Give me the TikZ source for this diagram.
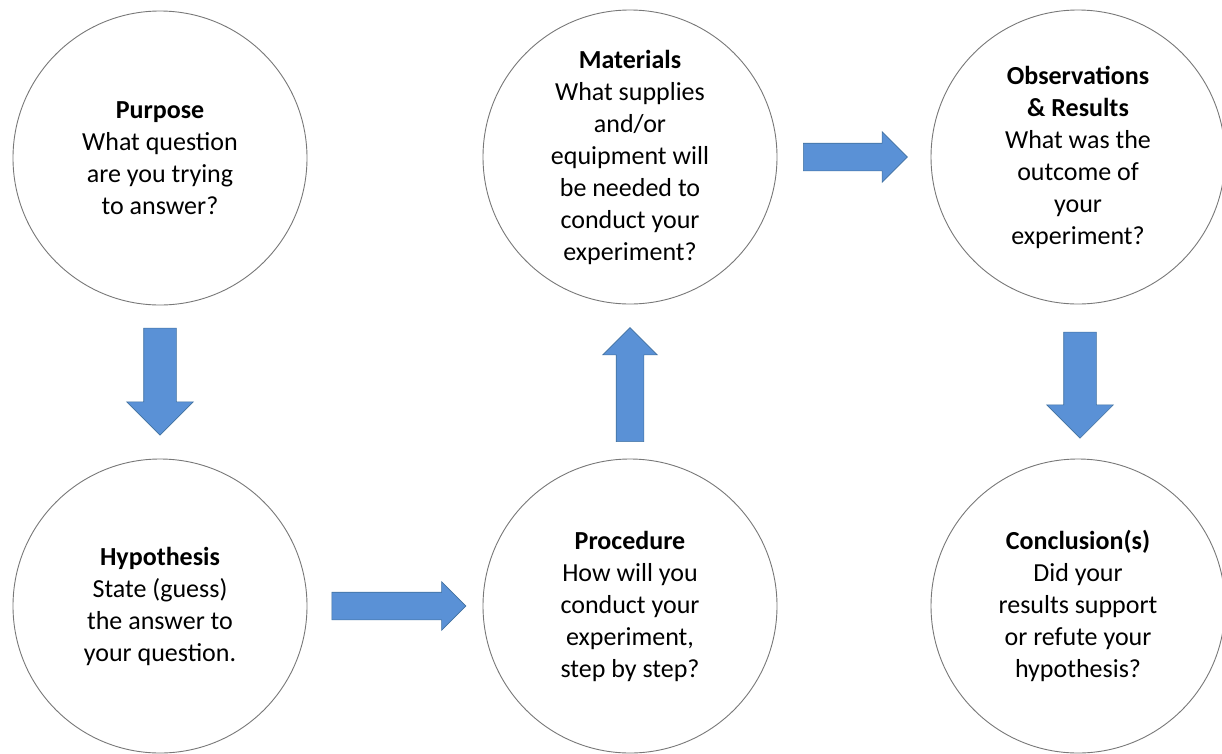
\documentclass[tikz,border=0pt]{standalone}
\usepackage{fontspec}
\setmainfont{Carlito}
\usetikzlibrary{shapes.arrows,calc}

\definecolor{arrowblue}{RGB}{90,145,214}
\definecolor{arrowedge}{RGB}{65,113,160}
\definecolor{ringgray}{RGB}{120,120,120}

\tikzset{
  stage/.style={circle, draw=ringgray, line width=0.9pt, fill=white,
    minimum size=294pt, inner sep=0pt, align=center,
    font=\fontsize{26}{32}\selectfont},
  flow/.style args={#1/#2/#3}{single arrow, draw=arrowedge, line width=0.6pt,
    fill=arrowblue, inner xsep=0pt, inner ysep=#2, single arrow head extend=#3,
    minimum height=#1, single arrow tip angle=90}
}

\begin{document}
\begin{tikzpicture}[x=1pt,y=-1pt]
\useasboundingbox (0,0) rectangle (1222,753);

% the six stages
\node[stage] (purpose) at (160,158)
  {\textbf{Purpose}\\What question\\are you trying\\to answer?};
\node[stage] (hypo) at (160,606)
  {\textbf{Hypothesis}\\State (guess)\\the answer to\\your question.};
\node[stage] (proc) at (630,606)
  {\textbf{Procedure}\\How will you\\conduct your\\experiment,\\step by step?};
\node[stage] (mater) at (630,157)
  {\textbf{Materials}\\What supplies\\and/or\\equipment will\\be needed to\\conduct your\\experiment?};
\node[stage] (observ) at (1078,157)
  {\textbf{Observations}\\\textbf{\& Results}\\What was the\\outcome of\\your\\experiment?};
\node[stage] (concl) at (1078,606)
  {\textbf{Conclusion(s)}\\Did your\\results support\\or refute your\\hypothesis?};

% block arrows between them
\node[flow=107pt/16pt/17pt, rotate=270] (a1) at ($(purpose)!0.5!(hypo)+(0,-8.5)$) {};
\node[flow=134pt/13.5pt/10.5pt] (a2) at ($(hypo)!0.5!(proc)+(-3,0)$) {};
\node[flow=114pt/13.5pt/13.5pt, rotate=90] (a3) at ($(proc)!0.5!(mater)+(0,10)$) {};
\node[flow=104pt/13.5pt/11.5pt] (a4) at ($(mater)!0.5!(observ)+(-5.5,0)$) {};
\node[flow=106pt/16pt/17pt, rotate=270] (a5) at ($(observ)!0.5!(concl)+(2,-4.5)$) {};
\end{tikzpicture}
\end{document}
